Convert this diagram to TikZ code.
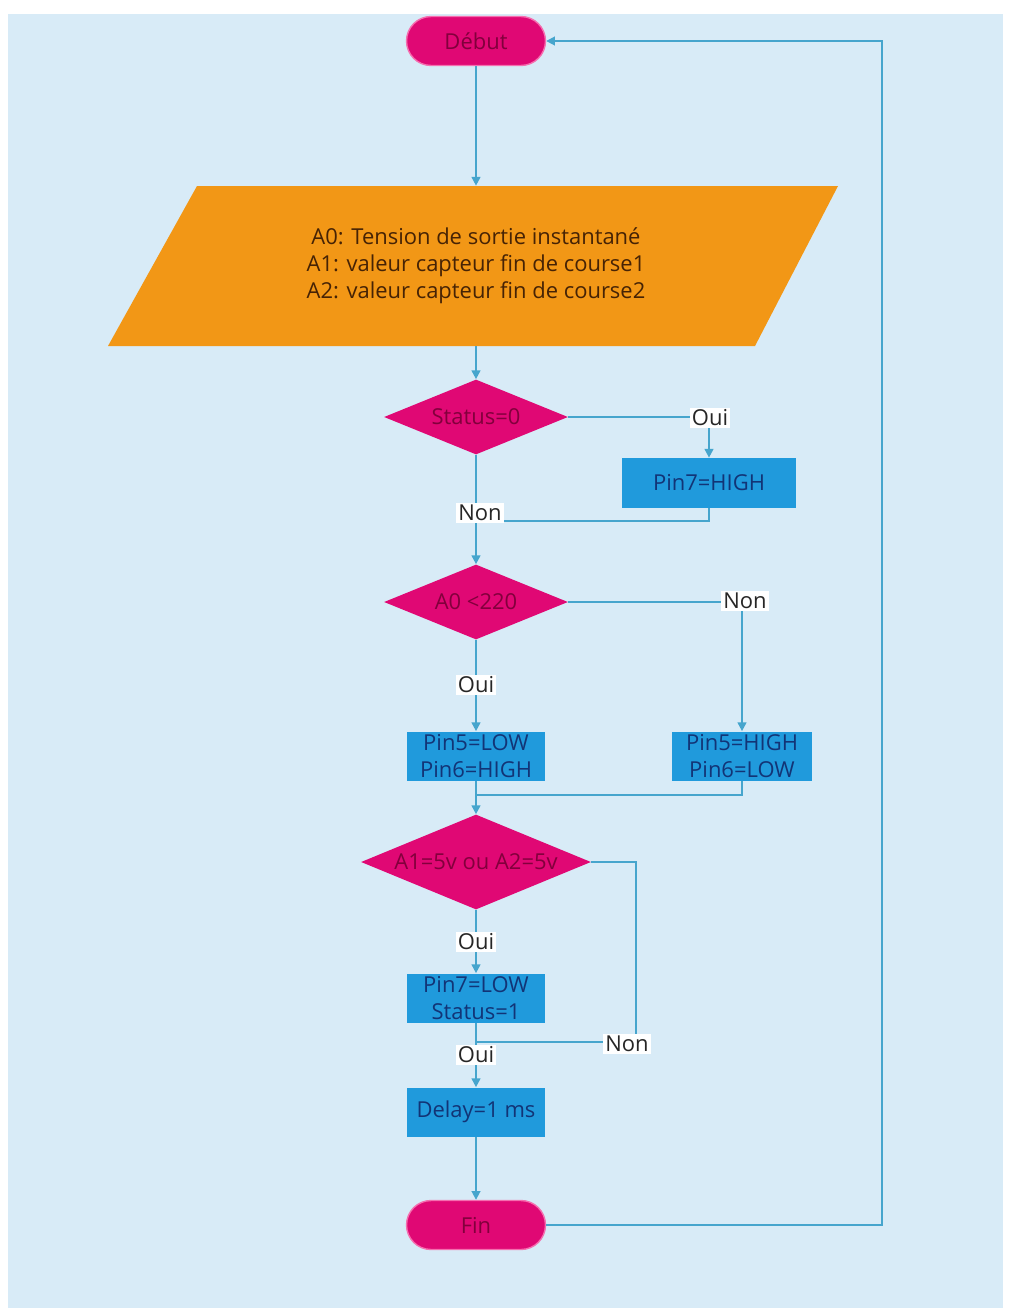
\documentclass[tikz,border=0pt]{standalone}
\usepackage{fontspec}
\setmainfont{Open Sans}
\usetikzlibrary{shapes.geometric,shapes.misc,arrows.meta}
\definecolor{bgc}{RGB}{216,235,247}
\definecolor{mag}{RGB}{224,8,116}
\definecolor{pinkedge}{RGB}{245,110,175}
\definecolor{magtext}{RGB}{130,0,60}
\definecolor{orangec}{RGB}{242,151,22}
\definecolor{orangetext}{RGB}{70,35,5}
\definecolor{boxc}{RGB}{32,154,220}
\definecolor{boxtext}{RGB}{18,52,118}
\definecolor{edgec}{RGB}{70,165,205}
\begin{document}
\begin{tikzpicture}[x=0.02cm,y=-0.02cm,
  every node/.style={font=\fontsize{12.5}{15.3}\selectfont},
  term/.style={rounded rectangle, fill=mag, draw=pinkedge, line width=0.8pt, minimum width=2.78cm, minimum height=0.98cm, text=magtext, inner sep=0pt},
  proc/.style={rectangle, fill=boxc, text=boxtext, inner sep=0pt, align=center, minimum width=2.76cm, minimum height=0.98cm},
  dec/.style={diamond, fill=mag, inner sep=0pt, minimum width=3.68cm, minimum height=1.5cm},
  dlab/.style={text=magtext},
  conn/.style={draw=edgec, line width=1pt},
  arr/.style={conn, -{Triangle[length=5pt,width=5pt]}},
  lab/.style={fill=white, inner sep=1.2pt, text=black!85}
]
\useasboundingbox (0,0) rectangle (1008,1315);
\fill[bgc] (8,14) rectangle (1003,1308);

% shapes
\node[term] (deb) at (476,41) {Début};
\fill[orangec] (197,186) -- (838,186) -- (755,346) -- (108,346) -- cycle;
\node[minimum height=3.2cm, minimum width=6cm, inner sep=0pt, align=center, text=orangetext] (inp) at (476,266)
  {A0: Tension de sortie instantané\\A1: valeur capteur fin de course1\\A2: valeur capteur fin de course2};
\node[dec, label={[dlab]center:{Status=0}}] (d1) at (476,417) {};
\node[proc, minimum width=3.5cm, minimum height=1.0cm] (p7h) at (709,483) {Pin7=HIGH};
\node[dec, label={[dlab]center:{A0 <220}}] (d2) at (476,602) {};
\node[proc] (p5l) at (476,756) {Pin5=LOW\\Pin6=HIGH};
\node[proc, minimum width=2.8cm] (p5h) at (742,756) {Pin5=HIGH\\Pin6=LOW};
\node[dec, minimum width=4.6cm, minimum height=1.9cm, label={[dlab]center:{A1=5v ou A2=5v}}] (d3) at (476,862) {};
\node[proc] (p7l) at (476,998) {Pin7=LOW\\Status=1};
\node[proc] (del) at (476,1112) {Delay=1 ms};
\node[term] (fin) at (476,1225) {Fin};

% junction points
\coordinate (m1) at (476,521);
\coordinate (m2) at (476,795);
\coordinate (c3) at (636,1042);
\coordinate (m3) at (476,1042);
\coordinate (lp) at (882,1225);

% connectors
\draw[arr] (deb.south) -- (inp.north);
\draw[arr] (inp.south) -- (d1.north);
\draw[arr] (d1.east) -| (p7h.north);
\draw[conn] (p7h.south) |- (m1);
\draw[arr] (d1.south) -- (d2.north);
\draw[arr] (d2.east) -| (p5h.north);
\draw[arr] (d2.south) -- (p5l.north);
\draw[conn] (p5h.south) |- (m2);
\draw[arr] (p5l.south) -- (d3.north);
\draw[arr] (d3.south) -- (p7l.north);
\draw[conn] (d3.east) -| (c3) -- (m3);
\draw[arr] (p7l.south) -- (del.north);
\draw[arr] (del.south) -- (fin.north);
\draw[arr] (fin.east) -- (lp) |- (deb.east);

% labels
\node[lab] (l1) at (710,418) {Oui};
\node[lab] (l2) at (480,513) {Non};
\node[lab] (l3) at (745,601) {Non};
\node[lab] (l4) at (476,685) {Oui};
\node[lab] (l5) at (476,942) {Oui};
\node[lab] (l6) at (627,1044) {Non};
\node[lab] (l7) at (476,1055) {Oui};
\end{tikzpicture}
\end{document}
